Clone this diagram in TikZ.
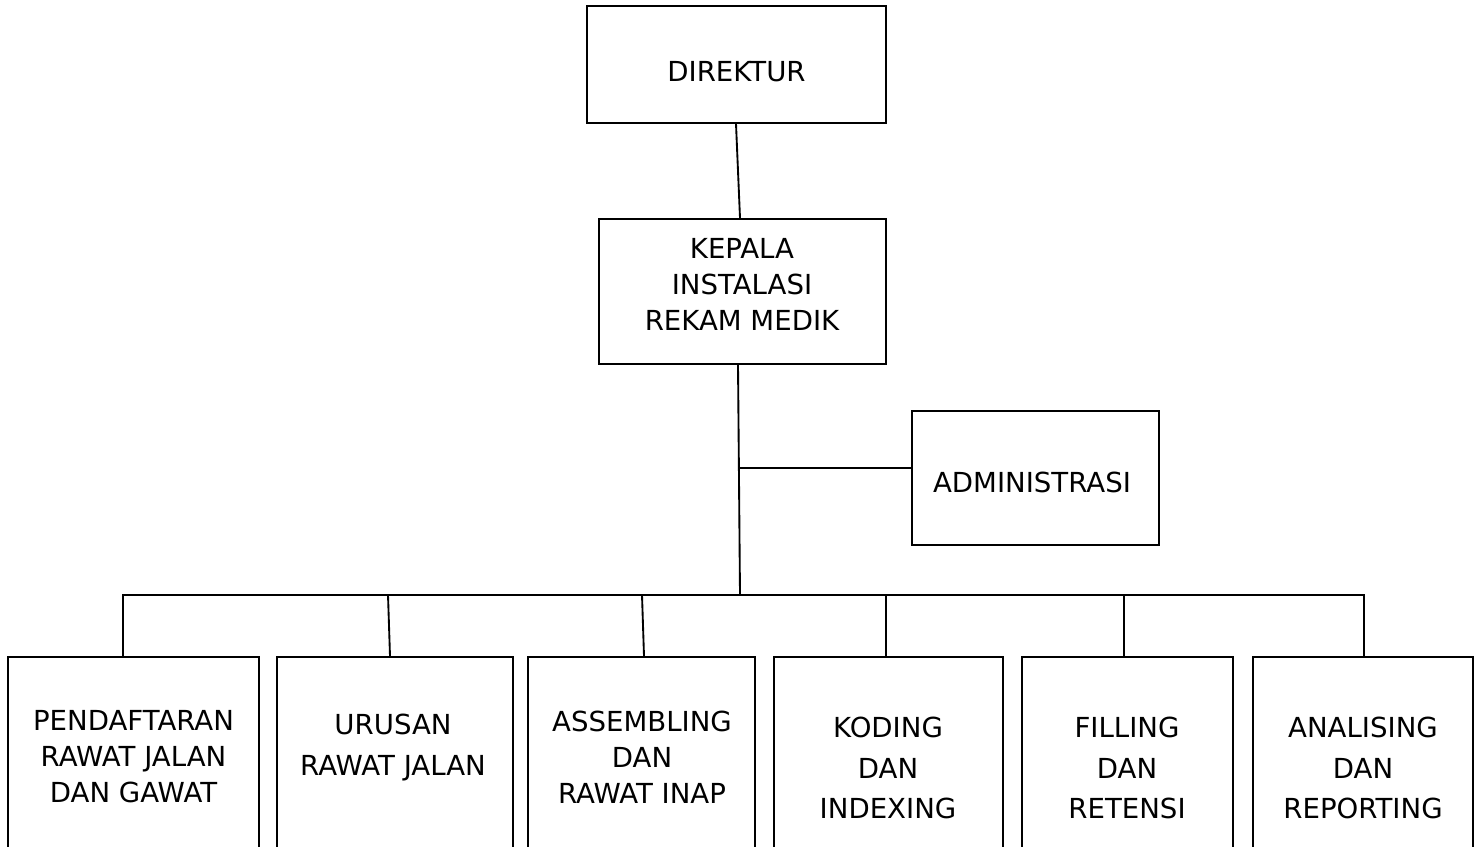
\documentclass[tikz,border=0pt]{standalone}
\usepackage{fontspec}
\setmainfont{DejaVu Sans}
\begin{document}
\begin{tikzpicture}[x=0.75pt,y=-0.75pt,
  box/.style={draw, line width=1.4pt, rectangle, inner sep=0pt},
  lbl/.style={align=center, font=\fontsize{20.7}{27}\selectfont, inner sep=0pt},
  lblwide/.style={lbl, font=\fontsize{20.7}{30.5}\selectfont},
  link/.style={line width=1.4pt, line cap=rect}]
\useasboundingbox (0,0) rectangle (1480,846);
\clip (0,0) rectangle (1480,846);

% top levels
\node[box, minimum width=299*0.75pt, minimum height=117*0.75pt] (dir) at (736.5,64.5) {};
\node[lbl] (dirt) at (736.5,72) {DIREKTUR};
\node[box, minimum width=287*0.75pt, minimum height=145*0.75pt] (kep) at (742.5,291.5) {};
\node[lbl] (kept) at (742,284.5) {KEPALA\\INSTALASI\\REKAM MEDIK};
\node[box, minimum width=247*0.75pt, minimum height=134*0.75pt] (adm) at (1035.5,478) {};
\node[lbl] (admt) at (1032,482) {ADMINISTRASI};

% units (boxes run past the lower edge)
\node[box, minimum width=251*0.75pt, minimum height=243*0.75pt] (b1) at (133.5,778.5) {};
\node[box, minimum width=236*0.75pt, minimum height=243*0.75pt] (b2) at (395,778.5) {};
\node[box, minimum width=227*0.75pt, minimum height=243*0.75pt] (b3) at (641.5,778.5) {};
\node[box, minimum width=229*0.75pt, minimum height=243*0.75pt] (b4) at (888.5,778.5) {};
\node[box, minimum width=211*0.75pt, minimum height=243*0.75pt] (b5) at (1127.5,778.5) {};
\node[box, minimum width=220*0.75pt, minimum height=243*0.75pt] (b6) at (1363,778.5) {};

\node[lbl] (b1t) at (133.5,757) {PENDAFTARAN\\RAWAT JALAN\\DAN GAWAT};
\node[lblwide] (b2t) at (393,747.5) {URUSAN\\RAWAT JALAN};
\node[lbl] (b3t) at (642,757) {ASSEMBLING\\DAN\\RAWAT INAP};
\node[lblwide] (b4t) at (888,768) {KODING\\DAN\\INDEXING};
\node[lblwide] (b5t) at (1127,768) {FILLING\\DAN\\RETENSI};
\node[lblwide] (b6t) at (1363,768) {ANALISING\\DAN\\REPORTING};

% connectors
\coordinate (j) at (740,595);
\coordinate (ja) at (739,468);
\coordinate (busL) at (123,595);
\coordinate (busR) at (1364,595);
\coordinate (t2) at (388,595);
\coordinate (t3) at (642,595);
\coordinate (t4) at (886,595);
\coordinate (t5) at (1124,595);

\draw[link] ([xshift=-0.375pt]dir.south) -- ([xshift=-1.875pt]kep.north);
\draw[link] ([xshift=-3.375pt]kep.south) -- (j);
\draw[link] (ja) -- (adm.west |- ja);
\draw[link] (busL |- b1.north) -- (busL) -- (busR) -- (busR |- b6.north);
\draw[link] (t2) -- ([xshift=-3.75pt]b2.north);
\draw[link] (t3) -- ([xshift=1.875pt]b3.north);
\draw[link] (t4) -- (t4 |- b4.north);
\draw[link] (t5) -- (t5 |- b5.north);
\end{tikzpicture}
\end{document}
